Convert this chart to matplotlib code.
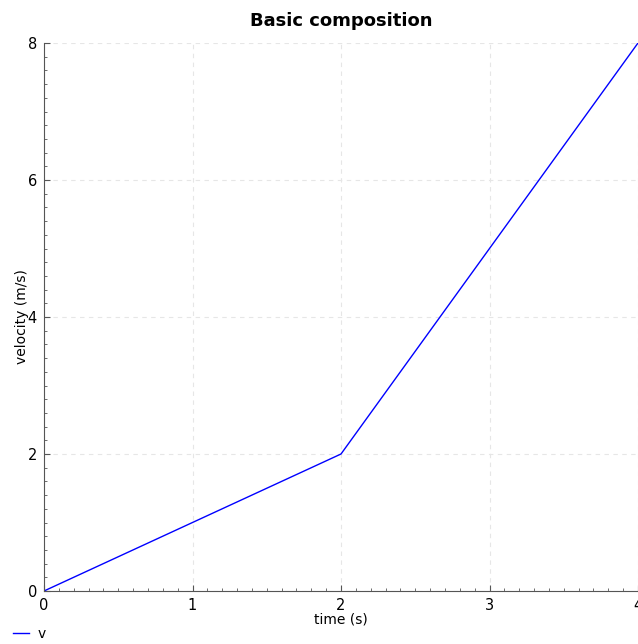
import numpy as np
import matplotlib.pyplot as plt
from matplotlib.ticker import MultipleLocator

# data
time = [0, 2, 4]
velocity = [0, 2, 8]

fig = plt.figure(figsize=(6.38, 6.44), dpi=100)
ax = fig.add_axes([44 / 638, 1 - 591 / 644, 594 / 638, 548 / 644])

ax.plot(time, velocity, color='#0000ff', lw=1, label='v')

ax.set_xlim(0, 4)
ax.set_ylim(0, 8)
ax.xaxis.set_major_locator(MultipleLocator(1))
ax.xaxis.set_minor_locator(MultipleLocator(0.1))
ax.yaxis.set_major_locator(MultipleLocator(2))
ax.yaxis.set_minor_locator(MultipleLocator(0.2))
ax.tick_params(which='both', direction='in', labelsize=10.5, color='#555555')
ax.tick_params(which='major', length=4, pad=5)
ax.tick_params(which='minor', length=2)

ax.grid(True, which='major', ls=(0, (4, 4)), color='#e6e6e6', lw=0.8)
for s in ['top', 'right']:
  ax.spines[s].set_visible(False)
for s in ['left', 'bottom']:
  ax.spines[s].set_color('#555555')

ax.set_title('Basic composition', fontsize=13, fontweight='bold', pad=12)
ax.set_xlabel('time (s)', fontsize=10, labelpad=0)
ax.set_ylabel('velocity (m/s)', fontsize=10, labelpad=-1)

fig.legend(loc='lower left', bbox_to_anchor=(0.0, -0.014), frameon=False,
           fontsize=10, handlelength=1.2, handletextpad=0.6)

fig.savefig('out.png', dpi=100)
